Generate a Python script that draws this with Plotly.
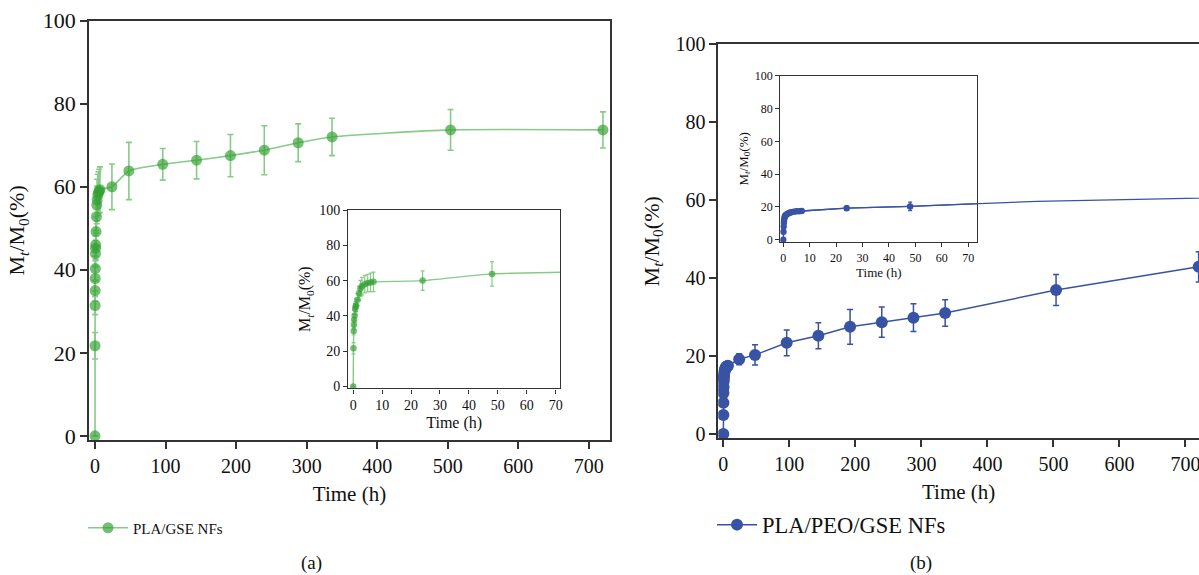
import plotly.graph_objects as go

# ---------------- data ----------------
time_h = [0, 0.083, 0.167, 0.25, 0.333, 0.5, 0.667, 0.833, 1, 1.5, 2, 2.5, 3, 4, 5, 6, 7,
          24, 48, 96, 144, 192, 240, 288, 336, 504, 720]

pla_gse = [0, 21.7, 31.4, 35.0, 37.9, 40.3, 43.9, 45.2, 46.0, 49.2, 52.8, 55.6, 56.8, 58.0, 58.6, 59.0, 59.3,
           60.0, 63.8, 65.4, 66.4, 67.5, 68.8, 70.6, 72.0, 73.7, 73.7]
pla_gse_err = [0, 3.2, 2.2, 2.5, 3.0, 3.0, 3.2, 3.0, 3.5, 3.5, 4.0, 4.5, 5.0, 5.0, 5.0, 5.2, 5.5,
               5.5, 6.9, 3.8, 4.5, 5.1, 5.9, 4.55, 4.5, 4.9, 4.35]

pla_peo_gse = [0, 4.9, 8.0, 10.5, 12.0, 13.5, 14.2, 14.7, 15.1, 15.7, 16.2, 16.5, 16.8, 17.1, 17.3, 17.4, 17.5,
               19.2, 20.3, 23.4, 25.2, 27.5, 28.7, 29.85, 31.05, 36.95, 42.9]
pla_peo_gse_err = [0, 0.8, 0.8, 0.8, 0.8, 0.8, 0.8, 0.8, 0.8, 0.8, 0.8, 0.8, 0.8, 0.8, 0.8, 0.8, 0.8,
                   1.4, 2.6, 3.3, 3.35, 4.45, 3.9, 3.55, 3.4, 4.0, 3.9]

main_x_ticks = [0, 100, 200, 300, 400, 500, 600, 700]
inset_x_ticks = [0, 10, 20, 30, 40, 50, 60, 70]
y_ticks = [0, 20, 40, 60, 80, 100]

series_names = ["PLA/GSE NFs", "PLA/PEO/GSE NFs"]
panel_labels = ["(a)", "(b)"]

# ---------------- layout helpers ----------------
W, H = 1199, 575
OFF = 0  # page margin removed via post_script below
FONT = "Liberation Serif"
AX = "#333333"
GREEN_M = "rgba(50,160,50,0.68)"
GREEN_L = "#86cb86"
BLUE = "#3953a4"


def px_x(a):
    return (a - OFF) / W


def px_y(b):
    return 1 - (b - OFF) / H


def dx(a, b):
    return [px_x(a), px_x(b)]


def dy(top, bottom):
    return [px_y(bottom), px_y(top)]


ytitle = "M<sub><i>t</i></sub>/M<sub>0</sub>(%)"

fig = go.Figure()

# ---- panel (a) main ----
fig.add_trace(go.Scatter(
    x=time_h, y=pla_gse, mode="lines+markers", name=series_names[0],
    line=dict(color=GREEN_L, width=1.6, shape="spline", smoothing=0.6),
    marker=dict(color=GREEN_M, size=11),
    error_y=dict(type="data", array=pla_gse_err, color=GREEN_L, thickness=1.6, width=3),
    xaxis="x", yaxis="y", legend="legend"))

# ---- panel (a) inset ----
fig.add_trace(go.Scatter(
    x=time_h, y=pla_gse, mode="lines+markers", showlegend=False,
    line=dict(color=GREEN_L, width=1.4, shape="spline", smoothing=0.6),
    marker=dict(color=GREEN_M, size=6.5),
    error_y=dict(type="data", array=pla_gse_err, color=GREEN_L, thickness=1.2, width=2),
    xaxis="x2", yaxis="y2"))

# ---- panel (b) main ----
fig.add_trace(go.Scatter(
    x=time_h, y=pla_peo_gse, mode="lines+markers", name=series_names[1],
    line=dict(color=BLUE, width=1.5),
    marker=dict(color=BLUE, size=12),
    error_y=dict(type="data", array=pla_peo_gse_err, color=BLUE, thickness=1.5, width=3),
    xaxis="x3", yaxis="y3", legend="legend2"))

# ---- panel (b) inset line running past its frame (as in the original) ----
fig.add_trace(go.Scatter(
    x=time_h, y=pla_peo_gse, mode="lines", showlegend=False,
    line=dict(color=BLUE, width=1.3), hoverinfo="skip",
    xaxis="x5", yaxis="y5"))

# ---- panel (b) inset ----
fig.add_trace(go.Scatter(
    x=time_h, y=pla_peo_gse, mode="lines+markers", showlegend=False,
    line=dict(color=BLUE, width=1.3),
    marker=dict(color=BLUE, size=6.5),
    error_y=dict(type="data", array=pla_peo_gse_err, color=BLUE, thickness=1.2, width=2),
    xaxis="x4", yaxis="y4"))

common = dict(showgrid=False, zeroline=False, showline=True, linecolor=AX, automargin=False,
              ticks="outside", tickcolor=AX, fixedrange=True)

main_tick = dict(family=FONT, size=20, color="#111")
title_font = dict(family=FONT, size=21, color="#111")

# domains (window pixels -> paper)
A_main_x, A_main_y = dx(89, 610), dy(20.7, 440)
A_in_x, A_in_y = dx(348.3, 560), dy(210, 388.3)
B_main_x, B_main_y = dx(718.3, 1199), dy(44.3, 438.3)
B_in_x, B_in_y = dx(780.3, 977.3), dy(75.7, 242)
B_over_x = dx(780.3, 1199)

B_in_range = [-1.1, 73.4]
span = (B_in_range[1] - B_in_range[0]) * (1199 - 780.3) / (977.3 - 780.3)
B_over_range = [B_in_range[0], B_in_range[0] + span]

fig.update_layout(
    width=W, height=H, autosize=False,
    margin=dict(l=0, r=0, t=0, b=0, autoexpand=False),
    paper_bgcolor="white", plot_bgcolor="rgba(0,0,0,0)",
    font=dict(family=FONT, color="#111"),
    # (a) main
    xaxis=dict(domain=A_main_x, anchor="y", range=[-8.5, 730], tickvals=main_x_ticks,
               linewidth=1.8, mirror=True, ticklen=7, tickwidth=1.6, tickfont=main_tick,
               title=dict(text="Time (h)", font=title_font, standoff=10), **common),
    yaxis=dict(domain=A_main_y, anchor="x", range=[-1, 100], tickvals=y_ticks,
               linewidth=1.8, mirror=True, ticklen=7, tickwidth=1.6,
               tickfont=dict(family=FONT, size=22, color="#111"),
               title=dict(text=ytitle, font=dict(family=FONT, size=22, color="#111"), standoff=12),
               **common),
    # (a) inset
    xaxis2=dict(domain=A_in_x, anchor="y2", range=[-1.7, 71.5], tickvals=inset_x_ticks,
                linewidth=1.4, mirror=True, ticklen=4, tickwidth=1.2,
                tickfont=dict(family=FONT, size=14, color="#111"),
                title=dict(text="Time (h)", font=dict(family=FONT, size=16, color="#111"), standoff=4),
                **common),
    yaxis2=dict(domain=A_in_y, anchor="x2", range=[-1, 100], tickvals=y_ticks,
                linewidth=1.4, mirror=True, ticklen=4, tickwidth=1.2,
                tickfont=dict(family=FONT, size=14, color="#111"),
                title=dict(text=ytitle, font=dict(family=FONT, size=16, color="#111"), standoff=4),
                **common),
    # (b) main — runs off the right edge of the window, as in the original
    xaxis3=dict(domain=B_main_x, anchor="y3", range=[-7.6, 720.5], tickvals=main_x_ticks,
                linewidth=1.8, mirror=True, ticklen=7, tickwidth=1.6, tickfont=main_tick,
                ticklabeloverflow="allow",
                title=dict(text="Time (h)", font=title_font, standoff=10), **common),
    yaxis3=dict(domain=B_main_y, anchor="x3", range=[-1.1, 100], tickvals=y_ticks,
                linewidth=1.8, mirror=False, ticklen=7, tickwidth=1.6, tickfont=main_tick,
                title=dict(text=ytitle, font=dict(family=FONT, size=22, color="#111"), standoff=10),
                **common),
    # (b) inset
    xaxis4=dict(domain=B_in_x, anchor="y4", range=B_in_range, tickvals=inset_x_ticks,
                linewidth=1.4, mirror=True, ticklen=4, tickwidth=1.2,
                tickfont=dict(family=FONT, size=12, color="#111"),
                title=dict(text="Time (h)", font=dict(family=FONT, size=13, color="#111"), standoff=3),
                **common),
    yaxis4=dict(domain=B_in_y, anchor="x4", range=[-1.4, 100], tickvals=y_ticks,
                linewidth=1.4, mirror=True, ticklen=4, tickwidth=1.2,
                tickfont=dict(family=FONT, size=12, color="#111"),
                title=dict(text=ytitle, font=dict(family=FONT, size=13, color="#111"), standoff=3),
                **common),
    # overflow helper axes (invisible), same scale as (b) inset
    xaxis5=dict(domain=B_over_x, anchor="y5", range=B_over_range, visible=False,
                fixedrange=True, automargin=False),
    yaxis5=dict(domain=B_in_y, anchor="x5", range=[-1.4, 100], visible=False,
                fixedrange=True, automargin=False),
    legend=dict(x=px_x(83), y=px_y(528), xanchor="left", yanchor="middle",
                bgcolor="rgba(0,0,0,0)", font=dict(family=FONT, size=15, color="#111"),
                itemwidth=40),
    legend2=dict(x=px_x(712), y=px_y(525), xanchor="left", yanchor="middle",
                 bgcolor="rgba(0,0,0,0)", font=dict(family=FONT, size=22.5, color="#111"),
                 itemwidth=40),
    annotations=[
        dict(text=panel_labels[0], x=px_x(311), y=px_y(563), xref="paper", yref="paper",
             xanchor="center", yanchor="middle",
             showarrow=False, font=dict(family=FONT, size=19, color="#111")),
        dict(text=panel_labels[1], x=px_x(921), y=px_y(563), xref="paper", yref="paper",
             xanchor="center", yanchor="middle",
             showarrow=False, font=dict(family=FONT, size=19, color="#111")),
    ],
)

fig.write_html(
    "out.html",
    config={"displayModeBar": False, "staticPlot": False},
    post_script="document.body.style.margin='0';document.body.style.overflow='hidden';",
)
